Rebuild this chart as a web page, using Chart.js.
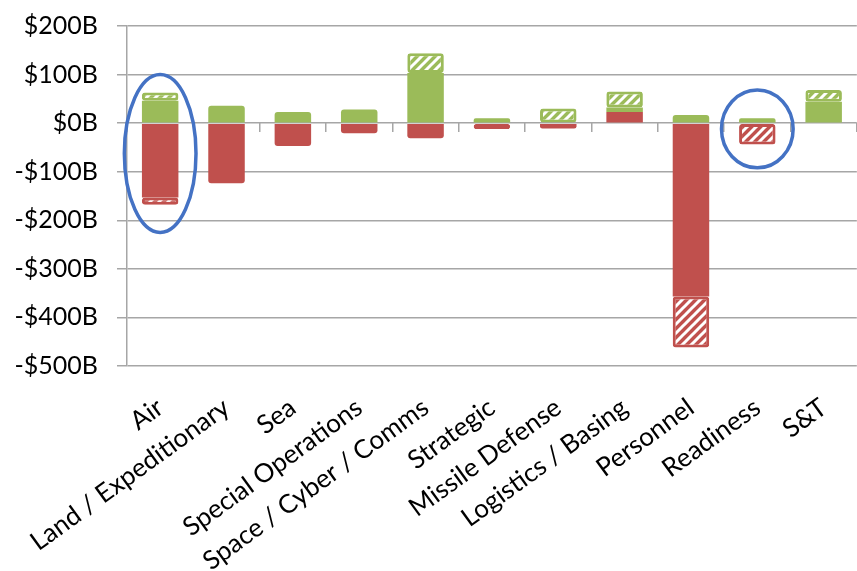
<!DOCTYPE html>
<html lang="en">
<head>
<meta charset="UTF-8">
<title>Budget changes by portfolio</title>
<script src="https://cdn.jsdelivr.net/npm/chart.js"></script>
<style>
  html, body { margin: 0; padding: 0; background: #fff; overflow: hidden; }
  .wrap { width: 860px; height: 579px; margin-top: -8px; }
</style>
</head>
<body>
<div class="wrap"><canvas id="chart"></canvas></div>
<script>
  // categories and values in $B
  const categories = ['Air', 'Land / Expeditionary', 'Sea', 'Special Operations', 'Space / Cyber / Comms',
    'Strategic', 'Missile Defense', 'Logistics / Basing', 'Personnel', 'Readiness', 'S&T'];
  const redSolid     = [-153, -124, -47, -21, -31, null, -11, 23, -357, null, null];
  const greenSolid   = [46, 36, 23, 28, 103, 10, null, 9, 17, 10, 44];
  const greenHatched = [17, null, null, null, 41, null, 30, 33, null, null, 24];
  const redHatched   = [-15, null, null, null, null, -12, null, null, -105, -44, null];

  const yMin = -500, yMax = 200, yStep = 100;

  // blue ellipses drawn round two categories (value range + half width in categories)
  const highlights = [
    { category: 'Air', top: 100, bottom: -225, halfWidth: 0.54 },
    { category: 'Readiness', top: 68, bottom: -92, halfWidth: 0.54 }
  ];

  const GREEN = '#9bbb59';
  const RED = '#c0504d';
  const GRID = '#a6a6a6';
  const FONT = { family: 'Lato', size: 25 };

  function hatch(color) {
    const c = document.createElement('canvas');
    c.width = c.height = 9;
    const g = c.getContext('2d');
    g.fillStyle = color;
    g.fillRect(0, 0, 9, 9);
    g.strokeStyle = '#fff';
    g.lineWidth = 3;
    g.beginPath();
    g.moveTo(0, 9); g.lineTo(9, 0);
    g.moveTo(-2, 2); g.lineTo(2, -2);
    g.moveTo(7, 11); g.lineTo(11, 7);
    g.stroke();
    return g.createPattern(c, 'repeat');
  }

  const highlightPlugin = {
    id: 'highlights',
    afterDatasetsDraw(chart) {
      const { ctx, scales: { x, y } } = chart;
      const step = x.getPixelForValue(1) - x.getPixelForValue(0);
      ctx.save();
      ctx.strokeStyle = '#4472c4';
      ctx.lineWidth = 3.5;
      highlights.forEach(h => {
        const cx = x.getPixelForValue(categories.indexOf(h.category));
        const top = y.getPixelForValue(h.top);
        const bottom = y.getPixelForValue(h.bottom);
        ctx.beginPath();
        ctx.ellipse(cx, (top + bottom) / 2, step * h.halfWidth, (bottom - top) / 2, 0, 0, Math.PI * 2);
        ctx.stroke();
      });
      ctx.restore();
    }
  };

  const solid = { borderWidth: 0, borderRadius: 3, barPercentage: 0.55, categoryPercentage: 1 };
  const hatched = { borderWidth: 3, borderSkipped: false, borderRadius: 3, barPercentage: 0.55, categoryPercentage: 1 };

  new Chart(document.getElementById('chart'), {
    type: 'bar',
    data: {
      labels: categories,
      datasets: [
        { label: 'Cuts', data: redSolid, backgroundColor: RED, ...solid },
        { label: 'Adds', data: greenSolid, backgroundColor: GREEN, ...solid },
        { label: 'Adds (other)', data: greenHatched, backgroundColor: hatch(GREEN), borderColor: GREEN, ...hatched },
        { label: 'Cuts (other)', data: redHatched, backgroundColor: hatch(RED), borderColor: RED, ...hatched }
      ]
    },
    options: {
      responsive: true,
      maintainAspectRatio: false,
      animation: false,
      layout: { padding: { top: 18, right: 0, left: 0, bottom: 0 } },
      plugins: { legend: { display: false }, tooltip: { enabled: false } },
      scales: {
        x: {
          stacked: true,
          offset: true,
          grid: { display: false },
          border: { display: false },
          ticks: { font: { family: 'Lato', size: 26 }, color: '#000', minRotation: 36, maxRotation: 36, autoSkip: false, padding: 18 },
          afterFit: s => { s.height = 205; }
        },
        // category ticks hanging from the $0B line
        x2: {
          type: 'category',
          position: { y: 0 },
          offset: true,
          grid: { offset: true, drawOnChartArea: false, drawTicks: true, tickLength: 9, color: GRID, lineWidth: 1.5 },
          border: { display: false },
          ticks: { callback: () => '' }
        },
        y: {
          stacked: true,
          min: yMin,
          max: yMax,
          ticks: {
            stepSize: yStep,
            font: FONT,
            color: '#000',
            padding: 19,
            callback: v => (v < 0 ? '-$' + Math.abs(v) : '$' + v) + 'B'
          },
          grid: { color: GRID, lineWidth: 1.5, tickLength: 10 },
          border: { color: GRID, width: 1.5 },
          afterFit: s => { s.width = 127; }
        }
      }
    },
    plugins: [highlightPlugin]
  });
</script>
</body>
</html>
